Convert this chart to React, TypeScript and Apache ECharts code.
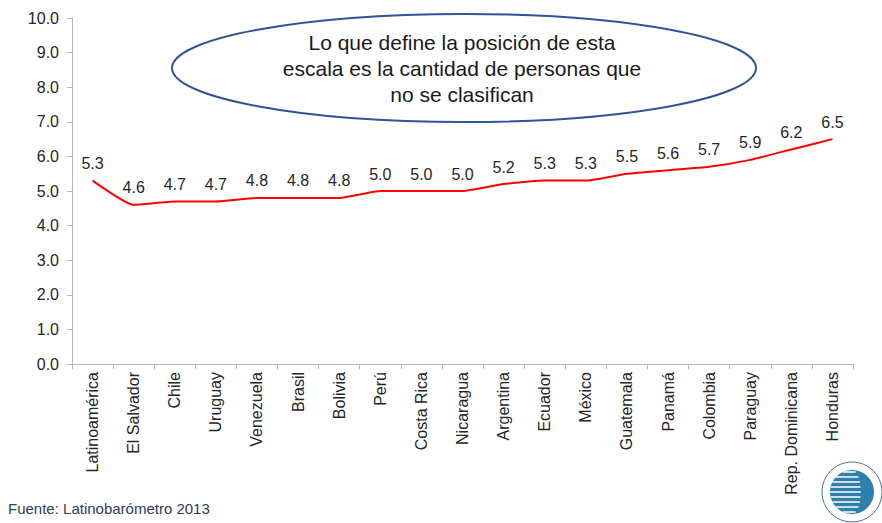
import React, { useEffect, useRef } from "react";
import * as echarts from "echarts";

const categories = [
  "Latinoamérica", "El Salvador", "Chile", "Uruguay", "Venezuela", "Brasil", "Bolivia",
  "Perú", "Costa Rica", "Nicaragua", "Argentina", "Ecuador", "México", "Guatemala",
  "Panamá", "Colombia", "Paraguay", "Rep. Dominicana", "Honduras",
];
const values = [5.3, 4.6, 4.7, 4.7, 4.8, 4.8, 4.8, 5.0, 5.0, 5.0, 5.2, 5.3, 5.3, 5.5, 5.6, 5.7, 5.9, 6.2, 6.5];
const noteLines = [
  "Lo que define la posición de esta",
  "escala es la cantidad de personas que",
  "no se clasifican",
];
const sourceText = "Fuente: Latinobarómetro 2013";

const FONT = "'Liberation Sans', Arial, sans-serif";

export default function App() {
  const ref = useRef<HTMLDivElement>(null);
  useEffect(() => {
    document.body.style.margin = "0";
    const chart = echarts.init(ref.current!, null, { renderer: "svg" });
    const stripes = [] as any[];
    for (let i = -4; i <= 4; i++) {
      const dy = i * 5;
      const half = Math.sqrt(Math.max(0, 22 * 22 - dy * dy));
      stripes.push({
        type: "line",
        shape: { x1: 852 - half, y1: 492 + dy, x2: 852 + half * 0.4, y2: 492 + dy },
        style: { stroke: "#ffffff", lineWidth: 1.5 },
        z: 12,
      });
    }
    chart.setOption({
      animation: false,
      backgroundColor: "#ffffff",
      grid: { left: 72, right: 29, top: 18, bottom: 159 },
      xAxis: {
        type: "category",
        data: categories,
        boundaryGap: true,
        axisLine: { lineStyle: { color: "#b7b7b7", width: 1 } },
        axisTick: { show: true, length: 5, lineStyle: { color: "#b7b7b7" } },
        axisLabel: {
          rotate: 90,
          interval: 0,
          fontFamily: FONT,
          fontSize: 16,
          color: "#262626",
          margin: 8,
        },
      },
      yAxis: {
        type: "value",
        min: 0,
        max: 10,
        interval: 1,
        axisLine: { show: true, lineStyle: { color: "#b7b7b7", width: 1 } },
        axisTick: { show: true, length: 5, lineStyle: { color: "#b7b7b7" } },
        splitLine: { show: false },
        axisLabel: {
          formatter: (v: number) => v.toFixed(1),
          fontFamily: FONT,
          fontSize: 16,
          color: "#262626",
          margin: 13,
        },
      },
      series: [
        {
          type: "line",
          data: values,
          smooth: 0.15,
          showSymbol: true,
          symbol: "circle",
          symbolSize: 2,
          itemStyle: { color: "rgba(255,0,0,0)", borderWidth: 0 },
          lineStyle: { color: "#ff0000", width: 2 },
          label: {
            show: true,
            position: "top",
            distance: 8,
            formatter: (p: any) => Number(p.value).toFixed(1),
            fontFamily: FONT,
            fontSize: 16,
            color: "#262626",
            opacity: 1,
          },
        },
      ],
      graphic: [
        {
          type: "ellipse",
          shape: { cx: 464, cy: 68, rx: 292, ry: 54 },
          style: { fill: "#ffffff", stroke: "#2f5597", lineWidth: 2 },
          z: 10,
        },
        {
          type: "text",
          x: 462,
          y: 68,
          style: {
            text: noteLines.join("\n"),
            fontFamily: FONT,
            fontSize: 21,
            lineHeight: 26,
            fill: "#1a1a1a",
            align: "center",
            verticalAlign: "middle",
          },
          z: 11,
        },
        {
          type: "text",
          x: 8,
          y: 508,
          style: {
            text: sourceText,
            fontFamily: FONT,
            fontSize: 15,
            fill: "#2b3d5a",
            verticalAlign: "middle",
          },
        },
        {
          type: "circle",
          shape: { cx: 852, cy: 492, r: 30 },
          style: { fill: "#ffffff", stroke: "#4a6f8f", lineWidth: 1 },
          z: 10,
        },
        {
          type: "circle",
          shape: { cx: 852, cy: 492, r: 22 },
          style: { fill: "#2f7fae" },
          z: 11,
        },
        ...stripes,
      ],
    });
    return () => chart.dispose();
  }, []);
  return <div ref={ref} style={{ width: 882, height: 523 }} />;
}
